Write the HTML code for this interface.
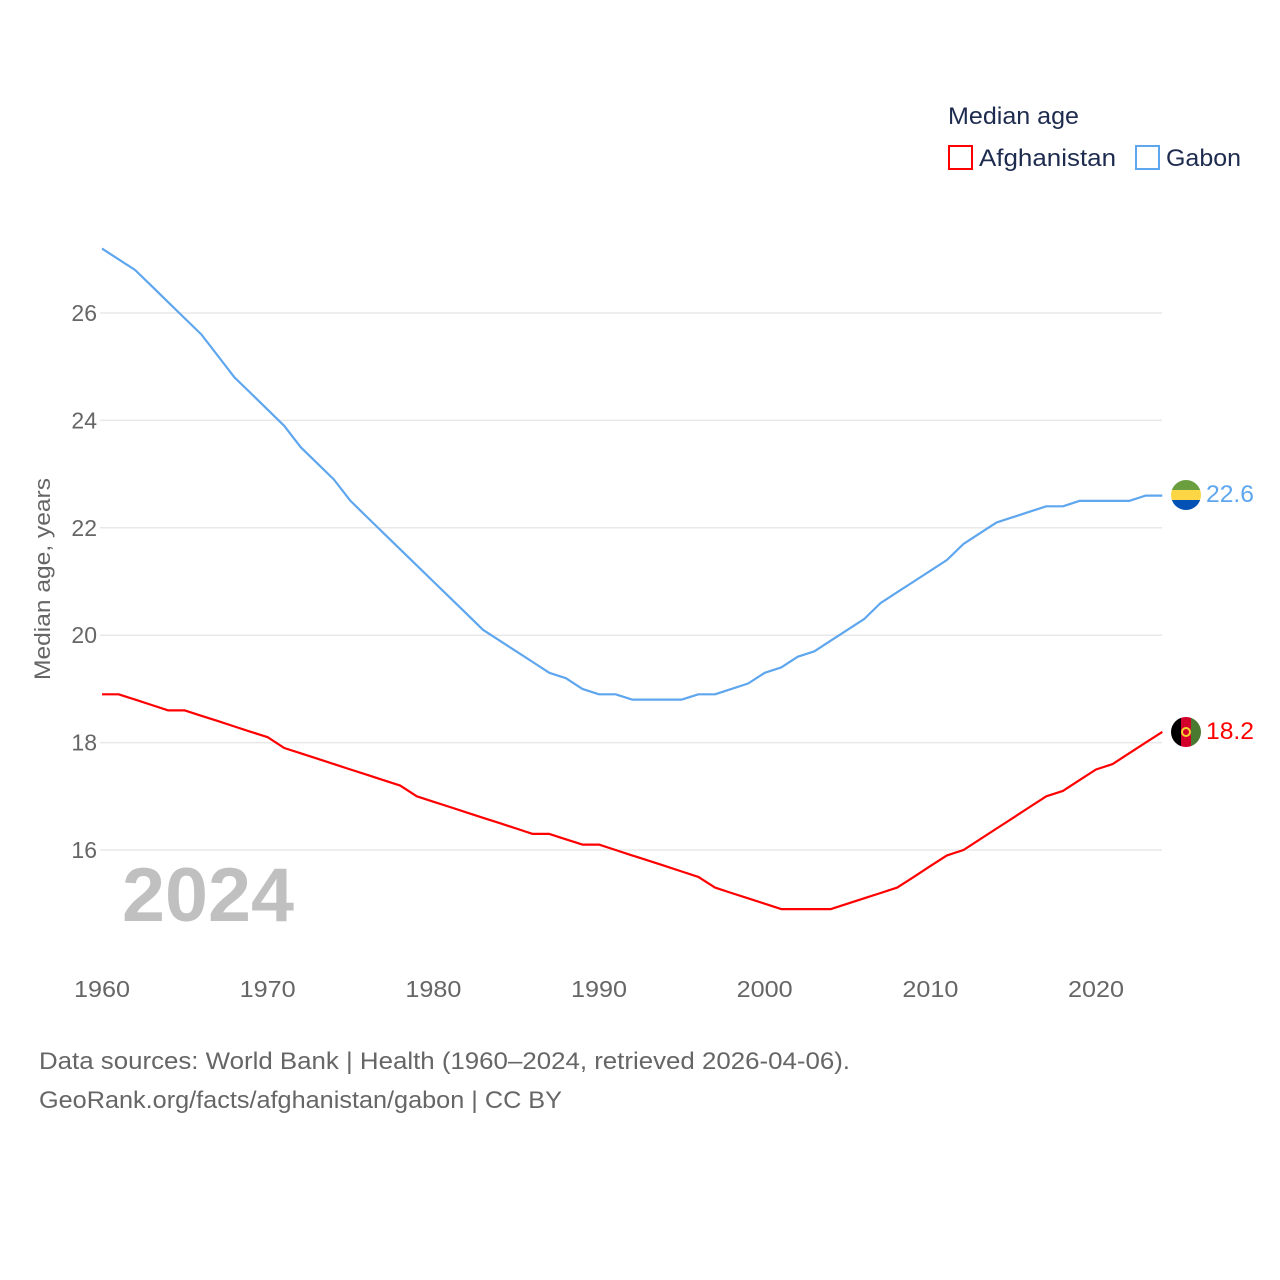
<!DOCTYPE html>
<html><head><meta charset="utf-8"><style>
html,body{margin:0;padding:0;background:#fff;width:1280px;height:1280px;overflow:hidden;font-family:"Liberation Sans",sans-serif}
</style></head><body>
<svg id="chart" width="1280" height="1280" xmlns="http://www.w3.org/2000/svg" font-family="Liberation Sans, sans-serif">
<defs>
<clipPath id="fg"><circle cx="1186" cy="495" r="15"/></clipPath>
<clipPath id="fa"><circle cx="1186" cy="732" r="15"/></clipPath>
</defs>
<text x="948" y="124" font-size="24" fill="#1d2b4f" textLength="131" lengthAdjust="spacingAndGlyphs">Median age</text>
<rect x="949" y="146" width="23" height="23" fill="none" stroke="#ff0000" stroke-width="2"/>
<text x="979" y="166" font-size="24" fill="#1d2b4f" textLength="137" lengthAdjust="spacingAndGlyphs">Afghanistan</text>
<rect x="1136" y="146" width="23" height="23" fill="none" stroke="#5ea6ee" stroke-width="2"/>
<text x="1166" y="166" font-size="24" fill="#1d2b4f" textLength="75" lengthAdjust="spacingAndGlyphs">Gabon</text>
<g id="grid"></g>
<g id="yticks"></g>
<g id="xticks"></g>
<text transform="translate(50,579) rotate(-90)" text-anchor="middle" font-size="22" fill="#666" textLength="202" lengthAdjust="spacingAndGlyphs">Median age, years</text>
<text x="122" y="921" font-size="76" font-weight="bold" fill="#c0c0c0" textLength="172" lengthAdjust="spacingAndGlyphs">2024</text>
<g id="lines"></g>
<g clip-path="url(#fg)">
<rect x="1171" y="480" width="30" height="10" fill="#6a9e3f"/><rect x="1171" y="490" width="30" height="10" fill="#fcd645"/><rect x="1171" y="500" width="30" height="10" fill="#0152b4"/>
</g>
<g clip-path="url(#fa)">
<rect x="1171" y="717" width="10" height="30" fill="#000"/><rect x="1181" y="717" width="10" height="30" fill="#d2002a"/><rect x="1191" y="717" width="10" height="30" fill="#4a7a30"/>
<circle cx="1186" cy="732" r="4" fill="none" stroke="#f3d22f" stroke-width="2"/>
</g>
<text x="1206" y="502" font-size="24" fill="#5ea6ee" textLength="48" lengthAdjust="spacingAndGlyphs">22.6</text>
<text x="1206" y="739" font-size="24" fill="#ff0000" textLength="48" lengthAdjust="spacingAndGlyphs">18.2</text>
<text x="39" y="1069" font-size="24" fill="#666" textLength="811" lengthAdjust="spacingAndGlyphs">Data sources: World Bank | Health (1960–2024, retrieved 2026-04-06).</text>
<text x="39" y="1108" font-size="24" fill="#666" textLength="523" lengthAdjust="spacingAndGlyphs">GeoRank.org/facts/afghanistan/gabon | CC BY</text>
</svg>
<script>
const years = [];
for (let y = 1960; y <= 2024; y++) years.push(y);
const afghanistan = [18.9,18.9,18.8,18.7,18.6,18.6,18.5,18.4,18.3,18.2,18.1,17.9,17.8,17.7,17.6,17.5,17.4,17.3,17.2,17.0,16.9,16.8,16.7,16.6,16.5,16.4,16.3,16.3,16.2,16.1,16.1,16.0,15.9,15.8,15.7,15.6,15.5,15.3,15.2,15.1,15.0,14.9,14.9,14.9,14.9,15.0,15.1,15.2,15.3,15.5,15.7,15.9,16.0,16.2,16.4,16.6,16.8,17.0,17.1,17.3,17.5,17.6,17.8,18.0,18.2];
const gabon = [27.2,27.0,26.8,26.5,26.2,25.9,25.6,25.2,24.8,24.5,24.2,23.9,23.5,23.2,22.9,22.5,22.2,21.9,21.6,21.3,21.0,20.7,20.4,20.1,19.9,19.7,19.5,19.3,19.2,19.0,18.9,18.9,18.8,18.8,18.8,18.8,18.9,18.9,19.0,19.1,19.3,19.4,19.6,19.7,19.9,20.1,20.3,20.6,20.8,21.0,21.2,21.4,21.7,21.9,22.1,22.2,22.3,22.4,22.4,22.5,22.5,22.5,22.5,22.6,22.6];
const yTicks = [16,18,20,22,24,26];
const xTicks = [1960,1970,1980,1990,2000,2010,2020];

const NS = "http://www.w3.org/2000/svg";
const xs = v => 102 + (v - 1960) * (1096 - 102) / 60;
const ys = v => 850 - (v - 16) * 53.7;

const grid = document.getElementById('grid'), yt = document.getElementById('yticks'), xt = document.getElementById('xticks'), lines = document.getElementById('lines');
yTicks.forEach(t => {
  const l = document.createElementNS(NS, 'line');
  l.setAttribute('x1', 100); l.setAttribute('x2', 1162);
  l.setAttribute('y1', ys(t)); l.setAttribute('y2', ys(t));
  l.setAttribute('stroke', '#e8e8e8'); l.setAttribute('stroke-width', 1.5);
  
  
  grid.appendChild(l);
  const tx = document.createElementNS(NS, 'text');
  tx.setAttribute('x', 97); tx.setAttribute('y', ys(t) + 8);
  tx.setAttribute('text-anchor', 'end'); tx.setAttribute('font-size', '23'); tx.setAttribute('fill', '#666');
  tx.textContent = t;
  
  
  yt.appendChild(tx);
});
xTicks.forEach(t => {
  const tx = document.createElementNS(NS, 'text');
  tx.setAttribute('x', xs(t)); tx.setAttribute('y', 997);
  tx.setAttribute('text-anchor', 'middle'); tx.setAttribute('font-size', '23'); tx.setAttribute('fill', '#666');
  tx.setAttribute('textLength', '56'); tx.setAttribute('lengthAdjust', 'spacingAndGlyphs');
  tx.textContent = t;
  
  
  xt.appendChild(tx);
});
function drawLine(vals, color, name) {
  const p = document.createElementNS(NS, 'polyline');
  p.setAttribute('points', vals.map((v, i) => xs(years[i]).toFixed(1) + ',' + ys(v).toFixed(1)).join(' '));
  p.setAttribute('fill', 'none'); p.setAttribute('stroke', color); p.setAttribute('stroke-width', 2.2);
  p.setAttribute('stroke-linejoin', 'round');
  
  
  lines.appendChild(p);
}
drawLine(gabon, '#5ea6ee', 'gabon-line');
drawLine(afghanistan, '#ff0000', 'afghanistan-line');
</script>
</body></html>
